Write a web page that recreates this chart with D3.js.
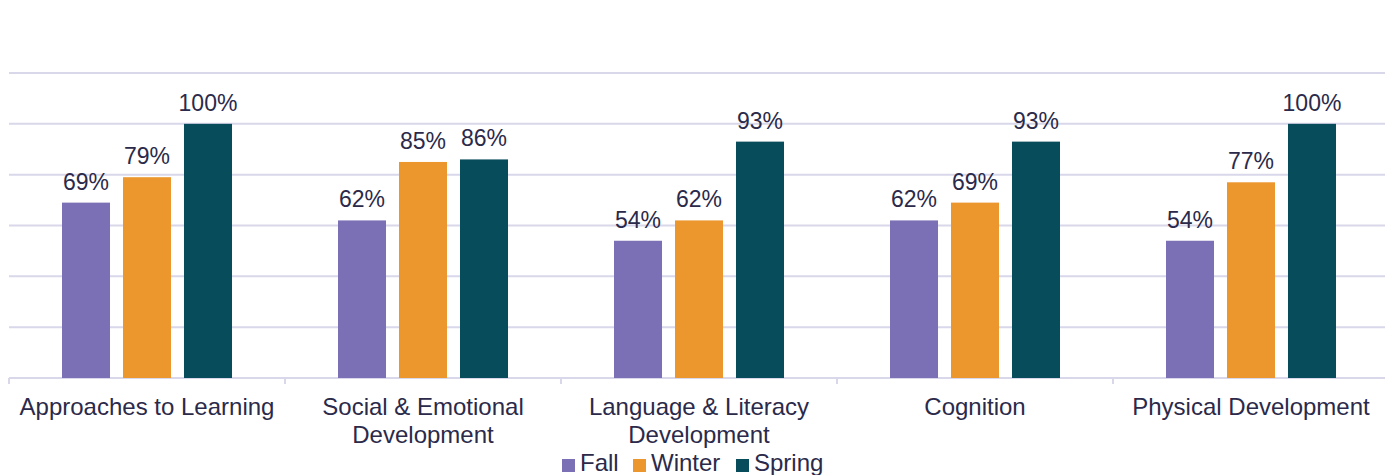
<!DOCTYPE html>
<html>
<head>
<meta charset="utf-8">
<title>Domains by Checkpoint</title>
<script src="https://cdn.jsdelivr.net/npm/d3@7"></script>
<style>
  body { margin: 0; background: #fff; }
  svg text { font-family: "Liberation Sans", Arial, sans-serif; fill: #2b2a4a; }
</style>
</head>
<body>
<script>
// data
var categories = [
  ["Approaches to Learning"],
  ["Social & Emotional", "Development"],
  ["Language & Literacy", "Development"],
  ["Cognition"],
  ["Physical Development"]
];
var seasons = ["Fall", "Winter", "Spring"];
var fall   = [69, 62, 54, 62, 54];
var winter = [79, 85, 62, 69, 77];
var spring = [100, 86, 93, 93, 100];
var yTicks = [0, 20, 40, 60, 80, 100, 120];
var colors = ["#7b70b6", "#ec962e", "#064c5b"];

var svg_width = 1385, svg_height = 475;
var margin = {top: 73, left: 9, bottom: 97};
var plotW = 1380;
var height = svg_height - margin.top - margin.bottom;

var svg = d3.select("body").append("svg")
  .attr("width", svg_width)
  .attr("height", svg_height);

var g = svg.append("g")
  .attr("transform", "translate(" + margin.left + "," + margin.top + ")");

var x0 = d3.scaleBand().domain(d3.range(categories.length)).range([0, plotW]);
var x1 = d3.scaleBand().domain(seasons).range([53, x0.bandwidth() - 53]).paddingInner(0.213);
var y = d3.scaleLinear().domain([0, 120]).range([height, 0]);

// gridlines
g.selectAll(".grid").data(yTicks).enter().append("line")
  .attr("x1", 0).attr("x2", plotW)
  .attr("y1", function(d) { return y(d); })
  .attr("y2", function(d) { return y(d); })
  .attr("stroke", "#d9d7ea")
  .attr("stroke-width", 2);

// category tick marks
g.selectAll(".tick").data(d3.range(categories.length + 1)).enter().append("line")
  .attr("x1", function(d) { return d * x0.bandwidth(); })
  .attr("x2", function(d) { return d * x0.bandwidth(); })
  .attr("y1", height).attr("y2", height + 6)
  .attr("stroke", "#d9d7ea")
  .attr("stroke-width", 2);

var series = [fall, winter, spring];
var groups = g.selectAll(".grp").data(categories).enter().append("g")
  .attr("transform", function(d, i) { return "translate(" + x0(i) + ",0)"; });

groups.each(function(cat, i) {
  var grp = d3.select(this);
  seasons.forEach(function(s, j) {
    var v = series[j][i];
    grp.append("rect")
      .attr("x", x1(s))
      .attr("y", y(v))
      .attr("width", x1.bandwidth())
      .attr("height", height - y(v))
      .attr("fill", colors[j]);
    grp.append("text")
      .attr("x", x1(s) + x1.bandwidth() / 2)
      .attr("y", y(v) - 13)
      .attr("text-anchor", "middle")
      .style("font-size", "23px")
      .text(v + "%");
  });
  var t = grp.append("text")
    .attr("text-anchor", "middle")
    .attr("y", height + 37)
    .style("font-size", "24px");
  cat.forEach(function(line, k) {
    t.append("tspan")
      .attr("x", x0.bandwidth() / 2)
      .attr("dy", k === 0 ? 0 : 28)
      .text(line);
  });
});

// legend
var legend = svg.append("g").attr("transform", "translate(562,471)");
var lx = [0, 71, 174];
seasons.forEach(function(s, j) {
  legend.append("rect")
    .attr("x", lx[j]).attr("y", -12)
    .attr("width", 13).attr("height", 13)
    .attr("fill", colors[j]);
  legend.append("text")
    .attr("x", lx[j] + 18).attr("y", 0)
    .style("font-size", "24px")
    .text(s);
});
</script>
</body>
</html>
